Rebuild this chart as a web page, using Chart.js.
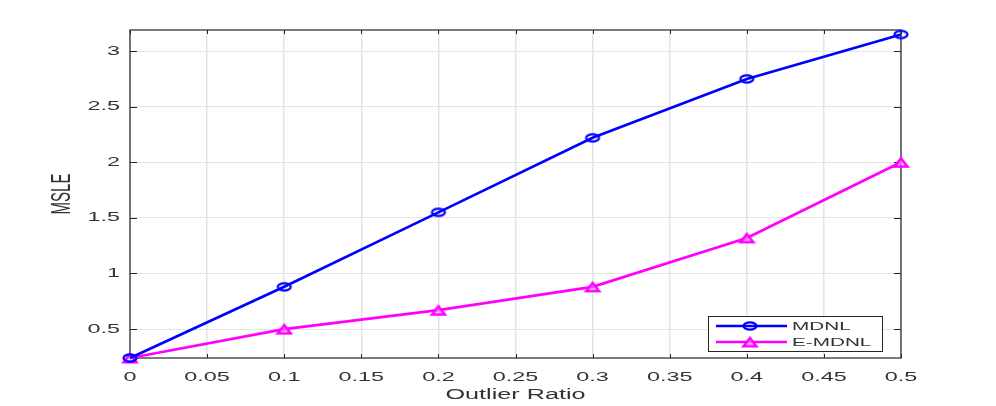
<!DOCTYPE html>
<html>
<head>
<meta charset="utf-8">
<script src="https://cdn.jsdelivr.net/npm/chart.js@4/dist/chart.umd.min.js"></script>
<style>
html,body{margin:0;padding:0;background:#fff;}
canvas{display:block;}
</style>
</head>
<body>
<canvas id="c" width="996" height="406"></canvas>
<script>
// ---- data ----
const outlierRatio = [0, 0.1, 0.2, 0.3, 0.4, 0.5];
const mdnl = [0.24, 0.88, 1.55, 2.22, 2.75, 3.15];
const emdnl = [0.24, 0.50, 0.67, 0.88, 1.32, 2.00];
const xTickValues = [0, 0.05, 0.1, 0.15, 0.2, 0.25, 0.3, 0.35, 0.4, 0.45, 0.5];
const yTickValues = [0.5, 1, 1.5, 2, 2.5, 3];
const seriesNames = ['MDNL', 'E-MDNL'];
const xTitle = 'Outlier Ratio';
const yTitle = 'MSLE';

const STRETCH = 1.8;
const FONT = '"Liberation Sans", Arial, Helvetica, sans-serif';
const TEXT = '#333333';

function makeEllipse(color) {
  const c = document.createElement('canvas');
  c.width = 18; c.height = 12;
  const g = c.getContext('2d');
  g.strokeStyle = color; g.lineWidth = 2.2;
  g.beginPath(); g.ellipse(9, 6, 6.5, 3.6, 0, 0, Math.PI * 2); g.stroke();
  return c;
}
function makeTriangle(color) {
  const c = document.createElement('canvas');
  c.width = 18; c.height = 13;
  const g = c.getContext('2d');
  g.strokeStyle = color; g.lineWidth = 2.6; g.lineJoin = 'miter';
  g.fillStyle = 'rgba(255,160,255,0.6)';
  g.beginPath(); g.moveTo(9, 2.5); g.lineTo(15.5, 10.8); g.lineTo(2.5, 10.8); g.closePath();
  g.fill(); g.stroke();
  return c;
}
const circleMark = makeEllipse('#0000ff');
const triMark = makeTriangle('#ff00ff');

function sText(ctx, text, x, y, size, align, baseline, rot) {
  ctx.save();
  ctx.translate(x, y);
  ctx.scale(STRETCH, 1);
  if (rot) ctx.rotate(rot);
  ctx.font = size + 'px ' + FONT;
  ctx.fillStyle = TEXT;
  ctx.textAlign = align;
  ctx.textBaseline = baseline;
  ctx.fillText(text, 0, 0);
  ctx.restore();
}

const frame = {
  id: 'frame',
  beforeDatasetsDraw(chart) {
    const ctx = chart.ctx, a = chart.chartArea;
    const xs = chart.scales.x, ys = chart.scales.y;
    ctx.save();
    ctx.strokeStyle = '#262626';
    ctx.lineWidth = 1.2;
    ctx.strokeRect(a.left, a.top, a.right - a.left, a.bottom - a.top);
    ctx.lineWidth = 1;
    ctx.beginPath();
    xs.ticks.forEach(t => {
      const px = Math.round(xs.getPixelForValue(t.value)) + 0.5;
      ctx.moveTo(px, a.bottom); ctx.lineTo(px, a.bottom - 4);
      ctx.moveTo(px, a.top); ctx.lineTo(px, a.top + 4);
    });
    ys.ticks.forEach(t => {
      const py = Math.round(ys.getPixelForValue(t.value)) + 0.5;
      ctx.moveTo(a.left, py); ctx.lineTo(a.left + 7, py);
      ctx.moveTo(a.right, py); ctx.lineTo(a.right - 7, py);
    });
    ctx.stroke();
    ctx.restore();
  },
  afterDraw(chart) {
    const ctx = chart.ctx, a = chart.chartArea;
    const xs = chart.scales.x, ys = chart.scales.y;
    xs.ticks.forEach(t => {
      sText(ctx, String(t.value), xs.getPixelForValue(t.value), a.bottom + 19, 13, 'center', 'middle');
    });
    ys.ticks.forEach(t => {
      sText(ctx, String(t.value), a.left - 10, ys.getPixelForValue(t.value), 13, 'right', 'middle');
    });
    sText(ctx, xTitle, (a.left + a.right) / 2, a.bottom + 37, 14, 'center', 'middle');
    sText(ctx, yTitle, a.left - 67, (a.top + a.bottom) / 2, 15, 'center', 'middle', -Math.PI / 2);

    // legend inside bottom-right
    const bx = a.right - 193, by = a.bottom - 42, bw = 174, bh = 35;
    ctx.save();
    ctx.fillStyle = '#fff';
    ctx.fillRect(bx, by, bw, bh);
    ctx.strokeStyle = '#262626';
    ctx.lineWidth = 1;
    ctx.strokeRect(bx + 0.5, by + 0.5, bw, bh);
    chart.data.datasets.forEach((ds, i) => {
      const yy = by + 10 + i * 16;
      ctx.strokeStyle = ds.borderColor;
      ctx.lineWidth = 2.5;
      ctx.beginPath(); ctx.moveTo(bx + 8, yy); ctx.lineTo(bx + 79, yy); ctx.stroke();
      const img = ds.pointStyle;
      ctx.drawImage(img, bx + 42 - img.width / 2, yy - img.height / 2);
      sText(ctx, ds.label, bx + 84, yy + 1, 11.5, 'left', 'middle');
    });
    ctx.restore();
  }
};

new Chart(document.getElementById('c'), {
  type: 'line',
  data: {
    datasets: [
      {
        label: seriesNames[0],
        data: outlierRatio.map((x, i) => ({ x, y: mdnl[i] })),
        borderColor: '#0000ff',
        backgroundColor: '#0000ff',
        borderWidth: 2.7,
        pointStyle: circleMark,
        pointRadius: 6,
        tension: 0,
        clip: false
      },
      {
        label: seriesNames[1],
        data: outlierRatio.map((x, i) => ({ x, y: emdnl[i] })),
        borderColor: '#ff00ff',
        backgroundColor: '#ff00ff',
        borderWidth: 2.7,
        pointStyle: triMark,
        pointRadius: 6,
        tension: 0,
        clip: false
      }
    ]
  },
  options: {
    responsive: false,
    animation: false,
    devicePixelRatio: 1,
    layout: { padding: { left: 130, right: 95, top: 30, bottom: 48 } },
    plugins: { legend: { display: false }, tooltip: { enabled: false } },
    scales: {
      x: {
        type: 'linear',
        min: 0, max: 0.5,
        afterBuildTicks: s => { s.ticks = xTickValues.map(v => ({ value: v })); },
        afterFit: s => { s.height = 0; },
        ticks: { display: false },
        grid: { color: '#e4e4e4', lineWidth: 1.5, tickLength: 0 },
        border: { display: false }
      },
      y: {
        type: 'linear',
        min: 0.24, max: 3.19,
        afterBuildTicks: s => { s.ticks = yTickValues.map(v => ({ value: v })); },
        afterFit: s => { s.width = 0; },
        ticks: { display: false },
        grid: { color: '#e4e4e4', lineWidth: 1, tickLength: 0 },
        border: { display: false }
      }
    }
  },
  plugins: [frame]
});
</script>
</body>
</html>
